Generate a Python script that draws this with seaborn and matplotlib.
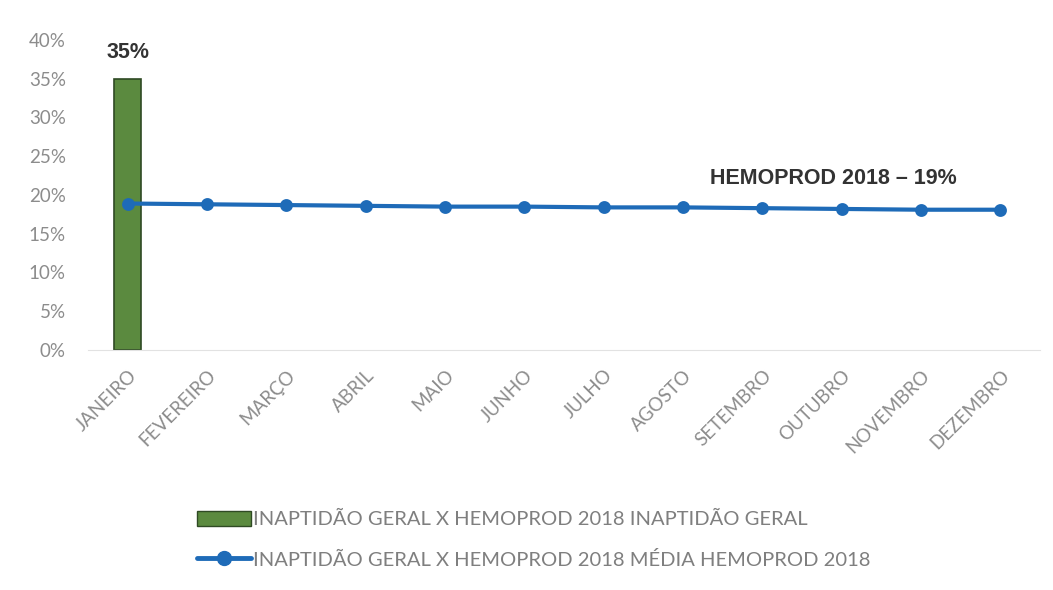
import numpy as np
import pandas as pd
import matplotlib
matplotlib.use("Agg")
import matplotlib.pyplot as plt
import seaborn as sns
from matplotlib.lines import Line2D
from matplotlib.patches import Patch

meses = ["JANEIRO", "FEVEREIRO", "MARÇO", "ABRIL", "MAIO", "JUNHO", "JULHO",
         "AGOSTO", "SETEMBRO", "OUTUBRO", "NOVEMBRO", "DEZEMBRO"]
inaptidao_geral = [35, np.nan, np.nan, np.nan, np.nan, np.nan, np.nan,
                   np.nan, np.nan, np.nan, np.nan, np.nan]
media_hemoprod = [18.9, 18.8, 18.7, 18.6, 18.5, 18.5, 18.4, 18.4, 18.3, 18.2, 18.1, 18.1]
y_ticks = [0, 5, 10, 15, 20, 25, 30, 35, 40]
nome_barra = "INAPTIDÃO GERAL X HEMOPROD 2018 INAPTIDÃO GERAL"
nome_linha = "INAPTIDÃO GERAL X HEMOPROD 2018 MÉDIA HEMOPROD 2018"

df = pd.DataFrame({"mes": meses, "geral": inaptidao_geral, "media": media_hemoprod})

sns.set_style("white")
plt.rcParams["font.family"] = ["Lato", "DejaVu Sans"]

verde = "#5b8a3f"
azul = "#1e6bb8"
cinza = "#8c8c8c"

fig = plt.figure(figsize=(10.53, 5.9), dpi=100)
ax = fig.add_axes([0.0836, 0.4068, 0.9041, 0.5254])

# barra só em janeiro
sns.barplot(data=df, x="mes", y="geral", order=meses, color=verde,
            edgecolor="#2f4a24", linewidth=1.2, width=0.34, saturation=1, ax=ax)
# média mensal do hemoprod
sns.pointplot(data=df, x="mes", y="media", order=meses, color=azul,
              markers="o", markersize=7, linewidth=3, ax=ax)

ax.set_ylim(0, 40)
ax.set_xlim(-0.5, len(meses) - 0.5)
ax.set_yticks(y_ticks)
ax.set_yticklabels([f"{v}%" for v in y_ticks], color=cinza, fontsize=13.5)
ax.set_xticks(range(len(meses)))
ax.set_xticklabels(meses, rotation=45, ha="right", va="top", rotation_mode="anchor",
                   color=cinza, fontsize=13.5)
ax.tick_params(axis="y", length=0, pad=16)
ax.tick_params(axis="x", length=0, pad=12)
ax.set_xlabel("")
ax.set_ylabel("")
for lado in ["top", "right", "left"]:
    ax.spines[lado].set_visible(False)
ax.spines["bottom"].set_color("#e2e2e2")

ax.text(0, 37.0, "35%", ha="center", va="bottom", fontsize=15.5, fontweight="bold",
        color="#333333", family="Liberation Sans")
ax.text(8.9, 20.8, "HEMOPROD 2018 – 19%", ha="center", va="bottom", fontsize=15.5,
        fontweight="bold", color="#333333", family="Liberation Sans")

handles = [Patch(facecolor=verde, edgecolor="#2f4a24", label=nome_barra),
           Line2D([0], [0], color=azul, lw=3.5, marker="o", markersize=10, label=nome_linha)]
fig.legend(handles=handles, loc="upper left", bbox_to_anchor=(0.179, 0.148),
           frameon=False, fontsize=14.5, labelcolor="#7f7f7f", handlelength=2.7,
           handleheight=0.8, handletextpad=0.1, labelspacing=1.1, borderaxespad=0)

fig.savefig("out.png", dpi=100)
